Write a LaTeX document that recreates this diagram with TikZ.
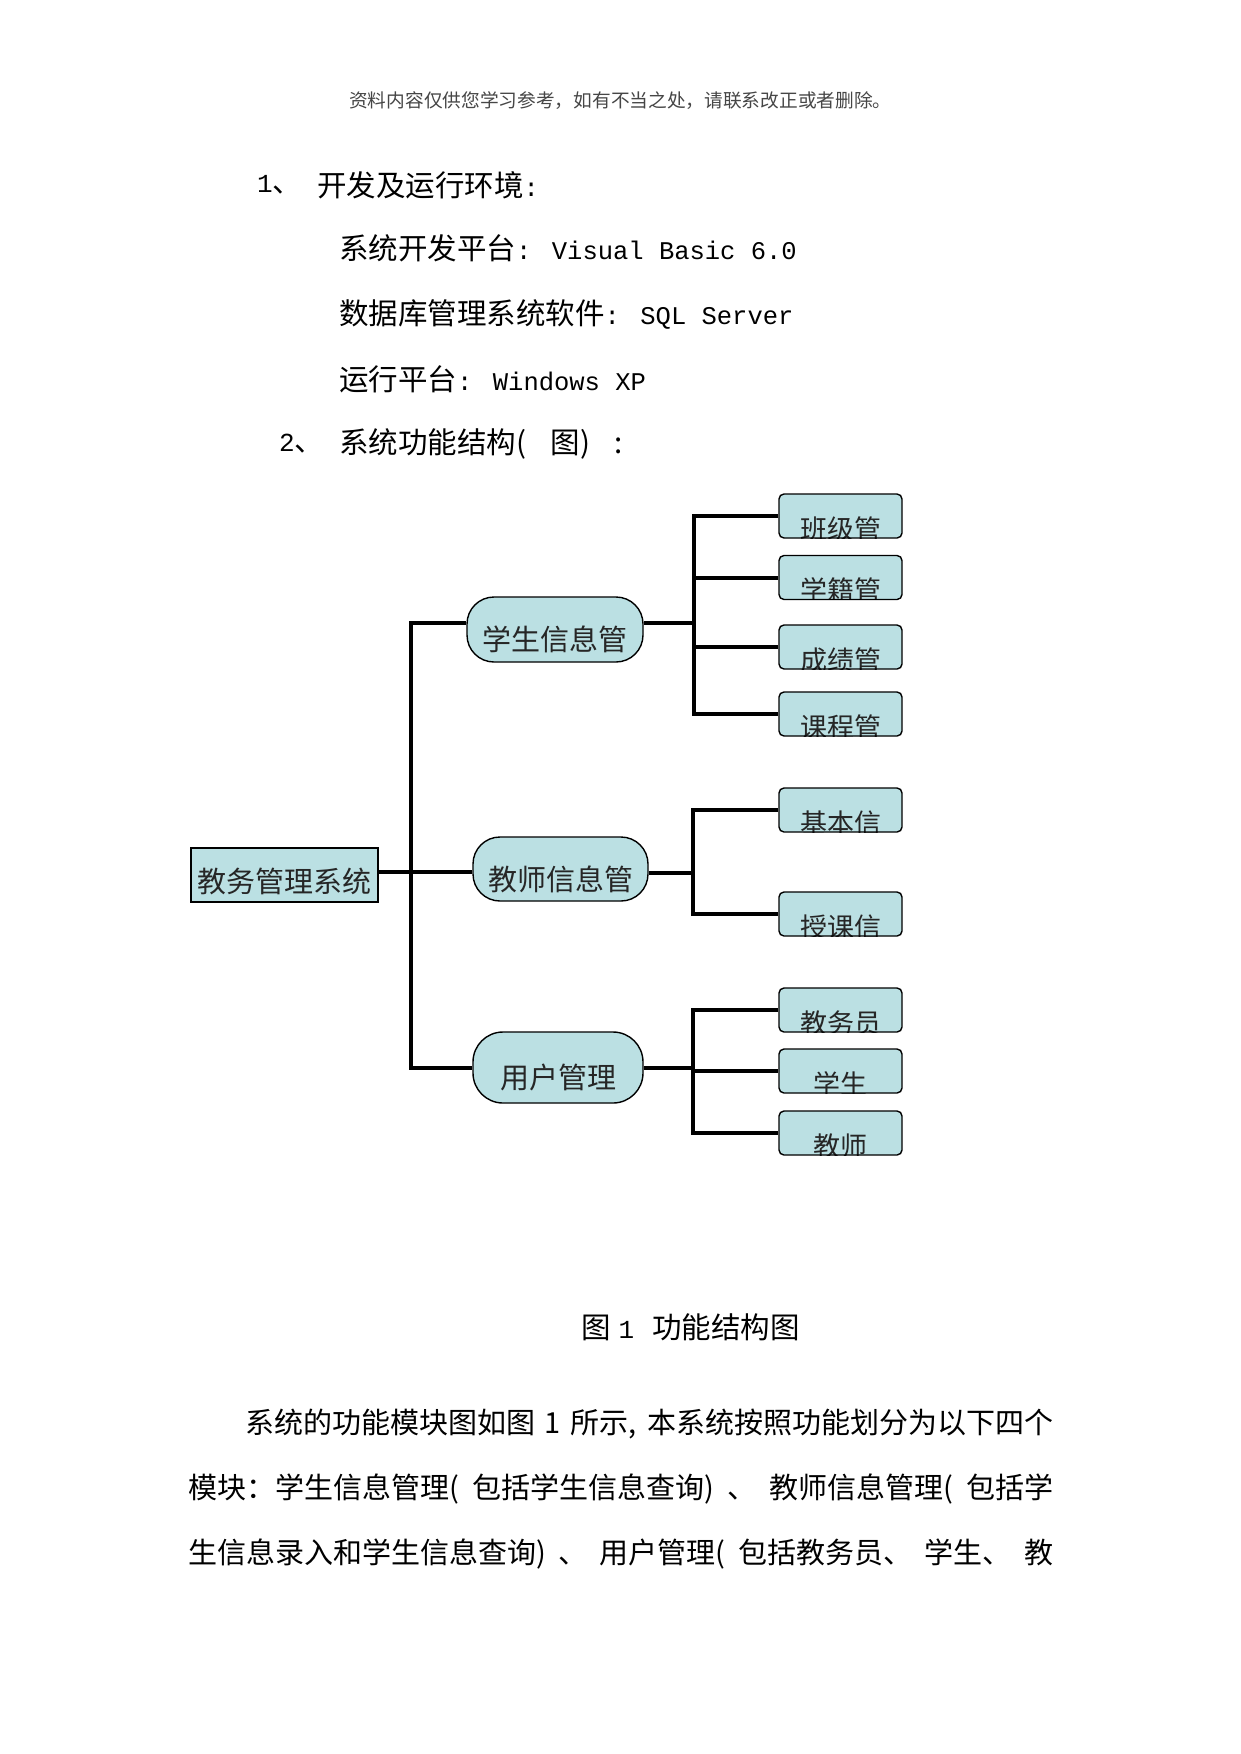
\documentclass[tikz,border=0pt]{standalone}
\usepackage{fontspec}
\setmainfont{Noto Sans CJK SC}
\newfontfamily\mono{Liberation Mono}
\XeTeXlinebreaklocale "zh"
\XeTeXlinebreakskip=0pt plus 2pt
\definecolor{boxfill}{RGB}{187,224,227}
\definecolor{hdrgray}{RGB}{70,70,70}
\tikzset{
  conn/.style={line width=4pt, black},
  base/.style={draw=black, line width=1.4pt, fill=boxfill, inner sep=0pt},
  rootbox/.style={base, minimum width=187pt, minimum height=54pt},
  pill/.style={base, rounded corners=27pt, minimum height=65pt},
  leaf/.style={base, rounded corners=5pt, minimum width=123pt, minimum height=44pt},
  lbl/.style={font=\fontsize{29}{29}\selectfont, text=black!85, inner sep=0pt},
  leaflbl/.style={font=\fontsize{27}{27}\selectfont, text=black!85, inner sep=0pt},
  txt/.style={anchor=west, inner sep=0pt, font=\fontsize{29.5}{29.5}\selectfont},
  para/.style={anchor=west, inner sep=0pt, font=\fontsize{29}{29}\selectfont},
}
\newcommand{\leafnode}[3]{%
  \node[leaf, path picture={\node[leaflbl] at ([yshift=-13pt]path picture bounding box.center) {#3};}] (#1) at #2 {};}
\newcommand{\lat}{\mono\fontsize{25.5}{25.5}\selectfont}
\begin{document}
\begin{tikzpicture}[x=1pt, y=-1pt]
\useasboundingbox (0,0) rectangle (1241,1754);
\fill[white] (0,0) rectangle (1241,1754);

% texts
\node[anchor=west, inner sep=0pt, font=\fontsize{18.7}{18.7}\selectfont, text=hdrgray] (hdr) at (349,101) {资料内容仅供您学习参考，如有不当之处，请联系改正或者删除。};
\node[txt] (n1) at (257,185) {{\mono\fontsize{26}{26}\selectfont 1}、};
\node[txt] (h1) at (317,185) {开发及运行环境{\lat :}};
\node[txt] (l1) at (339,248) {系统开发平台{\lat : Visual Basic 6.0}};
\node[txt] (l2) at (339,314) {数据库管理系统软件{\lat : SQL Server}};
\node[txt] (l3) at (339,379) {运行平台{\lat : Windows XP}};
\node[txt] (n2) at (279,444) {{\mono\fontsize{26}{26}\selectfont 2}、};
\node[txt] (h2) at (339,444) {\makebox[284pt][s]{系统功能结构( 图) :}};

% diagram nodes
\node[rootbox, path picture={\node[lbl] at ([yshift=-6pt]path picture bounding box.center) {教务管理系统};}] (root) at (284.5,875) {};
\node[pill, minimum width=176pt, path picture={\node[lbl] at ([yshift=-10pt]path picture bounding box.center) {学生信息管};}] (stu) at (555,629.5) {};
\node[pill, minimum width=175pt, minimum height=64pt, path picture={\node[lbl] at ([yshift=-10pt]path picture bounding box.center) {教师信息管};}] (tea) at (560.5,869) {};
\node[pill, minimum width=170pt, minimum height=71pt, rounded corners=30pt, path picture={\node[lbl] at ([yshift=-10pt]path picture bounding box.center) {用户管理};}] (usr) at (558,1067.5) {};

\leafnode{b1}{(840.5,516)}{班级管}
\leafnode{b2}{(840.5,577.5)}{学籍管}
\leafnode{b3}{(840.5,647)}{成绩管}
\leafnode{b4}{(840.5,714)}{课程管}
\leafnode{b5}{(840.5,810)}{基本信}
\leafnode{b6}{(840.5,914)}{授课信}
\leafnode{b7}{(840.5,1010)}{教务员}
\leafnode{b8}{(840.5,1071)}{学生}
\leafnode{b9}{(840.5,1133)}{教师}

% junction coordinates
\coordinate (tr1) at (411,623);
\coordinate (rj) at (411,872);
\coordinate (tr3) at (411,1068);
\coordinate (s0) at (694,623);
\coordinate (t0) at (693,873);
\coordinate (u0) at (693,1068);

% connectors
\draw[conn] (root.east |- rj) -- (rj -| tea.west);
\draw[conn] (tr1 -| stu.west) -- (tr1) -- (tr3) -- (tr3 -| usr.west);
\draw[conn] (tr1 -| stu.east) -- (s0);
\draw[conn] (b1.west) -| (s0) |- (b4.west);
\draw[conn] (s0 |- b2.west) -- (b2.west);
\draw[conn] (s0 |- b3.west) -- (b3.west);
\draw[conn] (t0 -| tea.east) -- (t0);
\draw[conn] (b5.west) -| (t0) |- (b6.west);
\draw[conn] (u0 -| usr.east) -- (u0);
\draw[conn] (b7.west) -| (u0) |- (b9.west);
\draw[conn] (u0 |- b8.west) -- (b8.west);

% caption and paragraph
\node[txt] (cap) at (581,1327) {图\hspace{8pt}{\mono\fontsize{26}{26}\selectfont 1}\hspace{18pt}功能结构图};
\node[para] (p1) at (245,1424) {\makebox[808pt][s]{系统的功能模块图如图 1 所示, 本系统按照功能划分为以下四个}};
\node[para] (p2) at (188,1489) {\makebox[865pt][s]{模块：学生信息管理( 包括学生信息查询) 、 教师信息管理( 包括学}};
\node[para] (p3) at (188,1554) {\makebox[865pt][s]{生信息录入和学生信息查询) 、 用户管理( 包括教务员、 学生、 教}};
\end{tikzpicture}
\end{document}
